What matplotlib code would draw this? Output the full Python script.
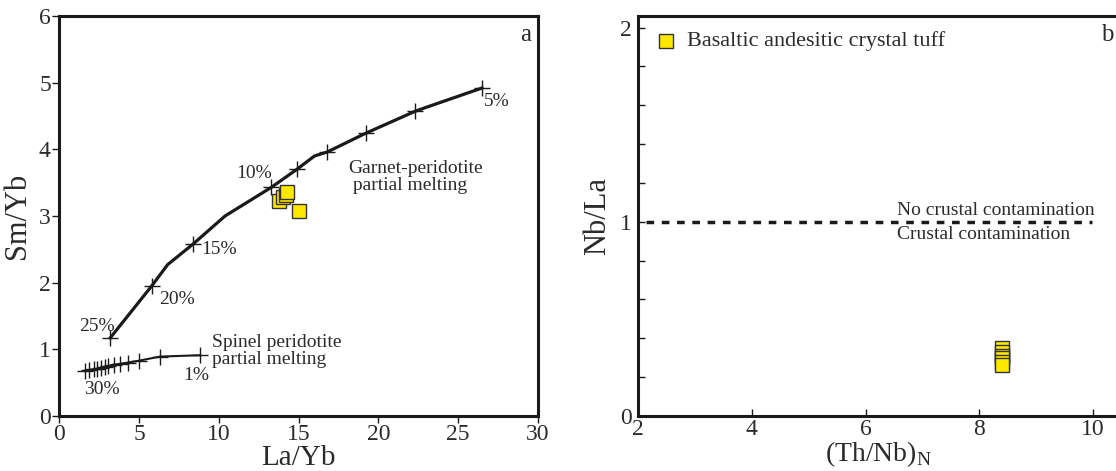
import matplotlib
matplotlib.use("Agg")
import matplotlib.pyplot as plt
from matplotlib.ticker import MultipleLocator

plt.rcParams['font.family'] = ['Liberation Serif', 'DejaVu Serif']

# panel a: melting curves (La/Yb vs Sm/Yb)
garnet_line_x = [3.2, 5.8, 6.8, 8.4, 10.4, 13.3, 14.9, 16.0, 16.8, 19.2, 22.3, 23.0, 26.5]
garnet_line_y = [1.17, 1.95, 2.27, 2.58, 3.00, 3.43, 3.70, 3.90, 3.96, 4.24, 4.57, 4.63, 4.92]
garnet_tick_x = [3.2, 5.8, 8.4, 13.3, 14.9, 16.8, 19.2, 22.3, 26.5]
garnet_tick_y = [1.17, 1.95, 2.58, 3.43, 3.70, 3.96, 4.24, 4.57, 4.92]
garnet_pct = ['25%', '20%', '15%', '10%', '', '', '', '', '5%']

spinel_x = [1.63, 1.90, 2.17, 2.39, 2.64, 2.86, 3.09, 3.42, 3.80, 4.31, 5.03, 6.33, 8.83]
spinel_y = [0.68, 0.69, 0.70, 0.71, 0.72, 0.74, 0.75, 0.77, 0.78, 0.80, 0.83, 0.89, 0.91]

sample_layb = [13.75, 14.05, 14.2, 14.3, 15.0]
sample_smyb = [3.22, 3.28, 3.32, 3.36, 3.08]

# panel b: (Th/Nb)N vs Nb/La
sample_thnb = [8.4, 8.4, 8.4, 8.4, 8.4, 8.4]
sample_nbla = [0.35, 0.33, 0.31, 0.30, 0.28, 0.26]

txt = '#2b2b2b'
yellow = '#ffe800'

fig = plt.figure(figsize=(11.16, 4.71), dpi=100)
ax1 = fig.add_axes([0.053, 0.117, 0.429, 0.849])
ax2 = fig.add_axes([0.572, 0.117, 0.430, 0.849])

# ---- a ----
ax1.plot(garnet_line_x, garnet_line_y, color='#1a1a1a', lw=2.3, zorder=2)
ax1.plot(garnet_tick_x, garnet_tick_y, ls='none', marker='+', ms=12, mew=1.0,
         color='#1a1a1a', zorder=3)
ax1.plot(spinel_x, spinel_y, color='#1a1a1a', lw=1.5, marker='+', ms=12, mew=1.0,
         zorder=2)
ax1.plot(sample_layb, sample_smyb, ls='none', marker='s', ms=10.5, mfc=yellow,
         mec='#333333', mew=1.0, zorder=4)

pct_pos = {'25%': (2.35, 1.34), '20%': (7.4, 1.74), '15%': (10.0, 2.49),
           '10%': (12.2, 3.63), '5%': (27.4, 4.72)}
for lab in garnet_pct:
    if lab:
        ax1.text(*pct_pos[lab], lab, fontsize=14, color=txt, ha='center', va='center')
ax1.text(2.7, 0.40, '30%', fontsize=14, color=txt, ha='center', va='center')
ax1.text(8.6, 0.60, '1%', fontsize=14, color=txt, ha='center', va='center')
ax1.text(18.1, 3.58, 'Garnet-peridotite\n partial melting', fontsize=14, color=txt,
         ha='left', va='center', linespacing=1.0)
ax1.text(9.6, 0.97, 'Spinel peridotite\npartial melting', fontsize=14, color=txt,
         ha='left', va='center', linespacing=1.0)
ax1.text(29.6, 5.88, 'a', fontsize=18, color=txt, ha='right', va='top')

ax1.set_xlim(0, 30)
ax1.set_ylim(0, 6)
ax1.xaxis.set_major_locator(MultipleLocator(5))
ax1.yaxis.set_major_locator(MultipleLocator(1))
ax1.tick_params(direction='out', length=5, width=1, labelsize=17, colors='#1a1a1a',
                labelcolor=txt, pad=1)
ax1.set_xlabel('La/Yb', fontsize=21, color=txt, labelpad=0)
ax1.set_ylabel('Sm/Yb', fontsize=22, color=txt, labelpad=5)
for s in ax1.spines.values():
    s.set_linewidth(2.2)
    s.set_color('#1a1a1a')

# ---- b ----
ax2.axhline(1.0, xmin=0.015, xmax=0.945, color='#1a1a1a', lw=2.5, ls=(0, (2.2, 2.2)))
ax2.plot(sample_thnb, sample_nbla, ls='none', marker='s', ms=10, mfc=yellow,
         mec='#333333', mew=1.0, zorder=4)
ax2.plot([2.48], [1.93], ls='none', marker='s', ms=10, mfc=yellow, mec='#333333', mew=1.0)
ax2.text(2.85, 1.93, 'Basaltic andesitic crystal tuff', fontsize=16, color=txt,
         ha='left', va='center')
ax2.text(6.56, 1.06, 'No crustal contamination', fontsize=14, color=txt,
         ha='left', va='center')
ax2.text(6.56, 0.935, 'Crustal contamination', fontsize=14, color=txt,
         ha='left', va='center')
ax2.text(10.25, 1.96, 'b', fontsize=18, color=txt, ha='center', va='center')

ax2.set_xlim(2, 10.45)
ax2.set_ylim(0, 2.06)
ax2.xaxis.set_major_locator(MultipleLocator(2))
ax2.yaxis.set_major_locator(MultipleLocator(1))
ax2.yaxis.set_minor_locator(MultipleLocator(0.2))
ax2.tick_params(which='both', direction='in', length=5, width=1, labelsize=17,
                colors='#1a1a1a', labelcolor=txt, pad=5)
ax2.xaxis.set_tick_params(pad=2)
ax2.set_xlabel('(Th/Nb)$_\\mathregular{N}$', fontsize=20, color=txt, labelpad=0)
ax2.set_ylabel('Nb/La', fontsize=22, color=txt, labelpad=5)
for s in ax2.spines.values():
    s.set_linewidth(2.2)
    s.set_color('#1a1a1a')

fig.savefig('out.png', dpi=100)
